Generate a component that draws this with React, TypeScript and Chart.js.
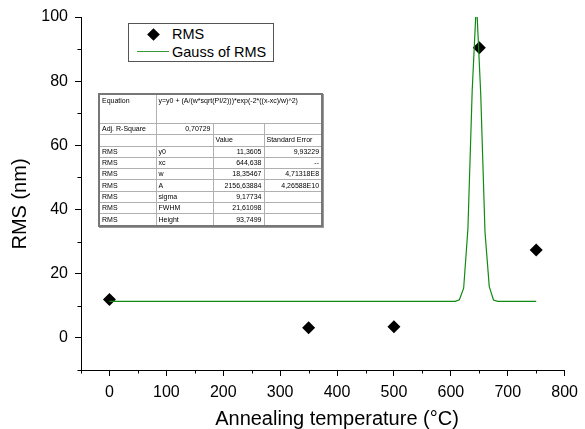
import React, { useEffect, useRef } from "react";
import { Chart, registerables } from "chart.js";

Chart.register(...registerables);

// ---- data ----
const RMS_X = [0, 350, 500, 650, 750];
const RMS_Y = [12, 3.2, 3.5, 90.4, 27.4];

const GAUSS_X = [0, 607.5, 615, 622.5, 630, 637.5, 645, 652.5, 660, 667.5, 675, 682.5, 750];
const GAUSS_Y = [11.36, 11.37, 11.9, 15.5, 34, 77, 105, 76, 33, 16, 11.8, 11.4, 11.36];

const X_MIN = -50;
const X_MAX = 800;
const X_STEP = 50;
const X_LABEL_EVERY = 100;
const Y_MIN = -10;
const Y_MAX = 100;
const Y_STEP = 10;
const Y_LABEL_EVERY = 20;

const X_TITLE = "Annealing temperature (°C)";
const Y_TITLE = "RMS (nm)";
const LEGEND_LABELS = ["RMS", "Gauss of RMS"];

const EQUATION = "y=y0 + (A/(w*sqrt(PI/2)))*exp(-2*((x-xc)/w)^2)";
const ADJ_R2 = "0,70729";
const PARAM_NAMES = ["y0", "xc", "w", "A", "sigma", "FWHM", "Height"];
const PARAM_VALUES = ["11,3605", "644,638", "18,35467", "2156,63884", "9,17734", "21,61098", "93,7499"];
const PARAM_ERRORS = ["9,93229", "--", "4,71318E8", "4,26588E10", "", "", ""];

const FONT = "'Liberation Sans', Arial, sans-serif";
const GREEN = "#108a10";

const overlayPlugin = {
  id: "overlay",
  afterDraw(chart: any) {
    const { ctx, chartArea, scales } = chart;
    const xs = scales.x;
    const ys = scales.y;
    ctx.save();
    ctx.strokeStyle = "#000";
    ctx.lineWidth = 1;
    // minor ticks
    ctx.beginPath();
    for (let v = X_MIN; v <= X_MAX; v += X_STEP) {
      if (v % X_LABEL_EVERY === 0) continue;
      const px = Math.round(xs.getPixelForValue(v)) + 0.5;
      ctx.moveTo(px, chartArea.bottom);
      ctx.lineTo(px, chartArea.bottom + 3.5);
    }
    for (let v = Y_MIN; v <= Y_MAX; v += Y_STEP) {
      if (v % Y_LABEL_EVERY === 0) continue;
      const py = Math.round(ys.getPixelForValue(v)) + 0.5;
      ctx.moveTo(chartArea.left, py);
      ctx.lineTo(chartArea.left - 3.5, py);
    }
    ctx.stroke();
    // axis titles
    ctx.fillStyle = "#000";
    ctx.font = `20px ${FONT}`;
    ctx.textAlign = "center";
    ctx.textBaseline = "middle";
    ctx.fillText(X_TITLE, 337, 419);
    ctx.translate(20, 204);
    ctx.rotate(-Math.PI / 2);
    ctx.fillText(Y_TITLE, 0, 0);
    ctx.restore();
  },
};

export default function App() {
  const ref = useRef<HTMLCanvasElement | null>(null);

  useEffect(() => {
    if (!ref.current) return;
    const chart = new Chart(ref.current, {
      type: "scatter",
      data: {
        datasets: [
          {
            label: LEGEND_LABELS[1],
            data: GAUSS_X.map((x, i) => ({ x, y: GAUSS_Y[i] })),
            showLine: true,
            borderColor: GREEN,
            borderWidth: 1.2,
            pointRadius: 0,
            tension: 0,
          },
          {
            label: LEGEND_LABELS[0],
            data: RMS_X.map((x, i) => ({ x, y: RMS_Y[i] })),
            showLine: false,
            pointStyle: "rectRot",
            pointRadius: 6.5,
            backgroundColor: "#000",
            borderColor: "#000",
            borderWidth: 0,
          },
        ],
      },
      options: {
        responsive: false,
        animation: false,
        events: [],
        layout: { padding: { top: 17, right: 16, left: 0, bottom: 0 } },
        plugins: { legend: { display: false }, tooltip: { enabled: false } },
        scales: {
          x: {
            type: "linear",
            min: X_MIN,
            max: X_MAX,
            afterFit: (s: any) => {
              s.height = 59;
            },
            border: { display: true, color: "#000", width: 1 },
            grid: {
              drawOnChartArea: false,
              drawTicks: true,
              tickLength: 6,
              tickColor: (c: any) => (c.tick && c.tick.value % X_LABEL_EVERY === 0 ? "#000" : "rgba(0,0,0,0)"),
            },
            ticks: {
              stepSize: X_STEP,
              autoSkip: false,
              maxRotation: 0,
              padding: 7,
              color: "#000",
              font: { family: FONT, size: 16 },
              callback: (v: any) => (Number(v) % X_LABEL_EVERY === 0 ? String(v) : ""),
            },
          },
          y: {
            type: "linear",
            min: Y_MIN,
            max: Y_MAX,
            afterFit: (s: any) => {
              s.width = 81;
            },
            border: { display: true, color: "#000", width: 1 },
            grid: {
              drawOnChartArea: false,
              drawTicks: true,
              tickLength: 6,
              tickColor: (c: any) => (c.tick && c.tick.value % Y_LABEL_EVERY === 0 ? "#000" : "rgba(0,0,0,0)"),
            },
            ticks: {
              stepSize: Y_STEP,
              autoSkip: false,
              padding: 7,
              color: "#000",
              font: { family: FONT, size: 16 },
              callback: (v: any) => (Number(v) % Y_LABEL_EVERY === 0 ? String(v) : ""),
            },
          },
        },
      },
      plugins: [overlayPlugin],
    });
    return () => chart.destroy();
  }, []);

  const cell: React.CSSProperties = {
    border: "1px solid #b0b0b0",
    padding: "0 2px",
    height: 10.3,
    lineHeight: "10px",
    whiteSpace: "nowrap",
    overflow: "hidden",
  };
  const right: React.CSSProperties = { ...cell, textAlign: "right" };

  return (
    <div style={{ position: "fixed", left: 0, top: 0, width: 585, height: 429, background: "#fff" }}>
      <canvas ref={ref} width={585} height={429} style={{ display: "block" }} />
      {/* legend */}
      <div
        style={{
          position: "absolute",
          left: 128,
          top: 23,
          width: 144,
          height: 37,
          border: "1px solid #555",
          fontFamily: FONT,
          fontSize: 14.5,
          color: "#000",
          background: "#fff",
        }}
      >
        <div
          style={{
            position: "absolute",
            left: 20,
            top: 6,
            width: 9,
            height: 9,
            background: "#000",
            transform: "rotate(45deg)",
          }}
        />
        <div style={{ position: "absolute", left: 43, top: 1, lineHeight: "18px" }}>{LEGEND_LABELS[0]}</div>
        <div style={{ position: "absolute", left: 8, top: 27, width: 32, height: 1, background: "#3a9a3a" }} />
        <div style={{ position: "absolute", left: 43, top: 19, lineHeight: "18px" }}>{LEGEND_LABELS[1]}</div>
      </div>
      {/* fit table */}
      <table
        style={{
          position: "absolute",
          left: 98,
          top: 93,
          width: 223,
          borderCollapse: "collapse",
          tableLayout: "fixed",
          fontFamily: FONT,
          fontSize: 7,
          color: "#000",
          background: "#fff",
          border: "2px solid #777",
          boxShadow: "1px 1px 0 #999",
        }}
      >
        <colgroup>
          <col style={{ width: 57 }} />
          <col style={{ width: 57 }} />
          <col style={{ width: 51 }} />
          <col style={{ width: 58 }} />
        </colgroup>
        <tbody>
          <tr>
            <td style={{ ...cell, height: 28, verticalAlign: "top", lineHeight: "11px" }}>Equation</td>
            <td colSpan={3} style={{ ...cell, height: 28, verticalAlign: "top", lineHeight: "11px" }}>
              {EQUATION}
            </td>
          </tr>
          <tr>
            <td style={cell}>Adj. R-Square</td>
            <td style={right}>{ADJ_R2}</td>
            <td style={cell}></td>
            <td style={cell}></td>
          </tr>
          <tr>
            <td style={cell}></td>
            <td style={cell}></td>
            <td style={cell}>Value</td>
            <td style={cell}>Standard Error</td>
          </tr>
          {PARAM_NAMES.map((p, i) => (
            <tr key={p}>
              <td style={cell}>RMS</td>
              <td style={cell}>{p}</td>
              <td style={right}>{PARAM_VALUES[i]}</td>
              <td style={right}>{PARAM_ERRORS[i]}</td>
            </tr>
          ))}
        </tbody>
      </table>
    </div>
  );
}
